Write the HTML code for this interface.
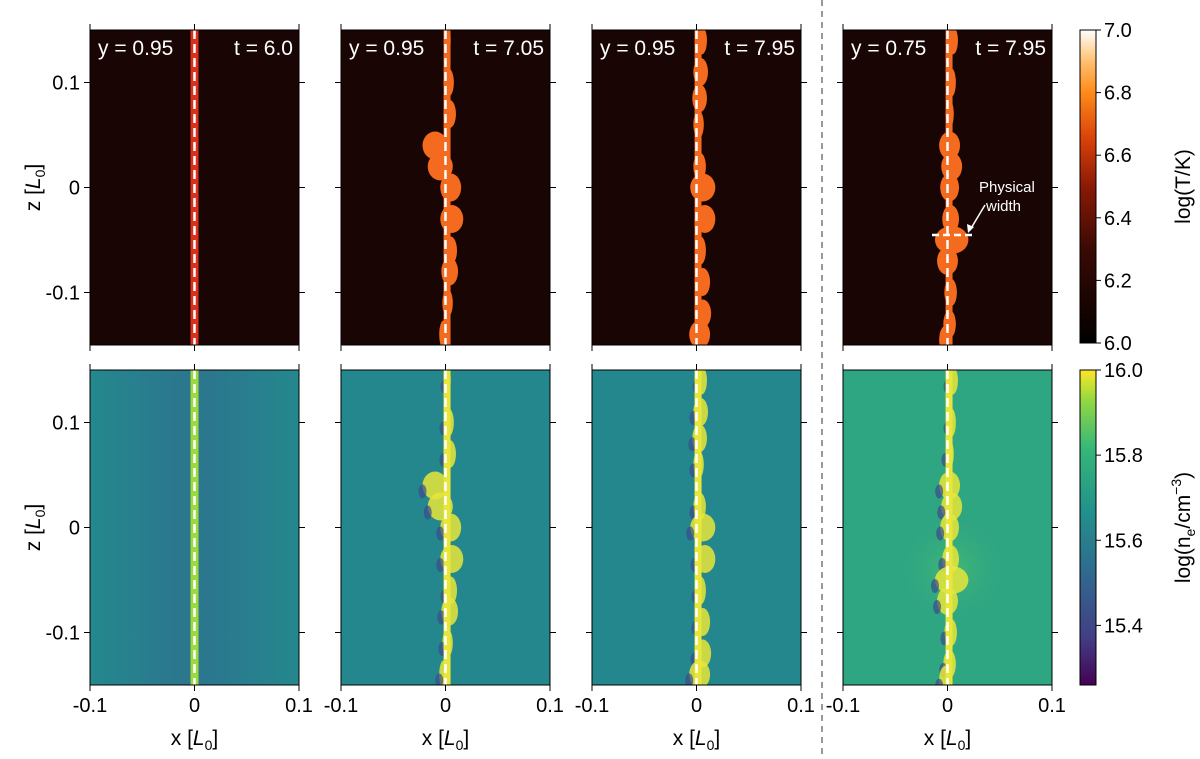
<!DOCTYPE html>
<html><head><meta charset="utf-8"><style>
body{margin:0;background:#fff;font-family:"Liberation Sans",sans-serif}
svg text{font-family:"Liberation Sans",sans-serif}
</style></head><body>
<svg id="fig" width="1200" height="754" viewBox="0 0 1200 754" xmlns="http://www.w3.org/2000/svg">
<defs>
<linearGradient id="gT" x1="0" y1="1" x2="0" y2="0">
<stop offset="0" stop-color="#000"/><stop offset="0.3" stop-color="#3a0a04"/><stop offset="0.5" stop-color="#8a1a06"/><stop offset="0.65" stop-color="#d9400a"/><stop offset="0.8" stop-color="#ff8a1a"/><stop offset="0.9" stop-color="#ffc070"/><stop offset="1" stop-color="#fff"/>
</linearGradient>
<linearGradient id="gN" x1="0" y1="1" x2="0" y2="0">
<stop offset="0" stop-color="#440154"/><stop offset="0.15" stop-color="#433e85"/><stop offset="0.35" stop-color="#31688e"/><stop offset="0.55" stop-color="#21918c"/><stop offset="0.75" stop-color="#35b779"/><stop offset="0.9" stop-color="#90d743"/><stop offset="1" stop-color="#fde725"/>
</linearGradient>
<linearGradient id="band1" x1="0" y1="0" x2="1" y2="0">
<stop offset="0" stop-color="#24888d"/><stop offset="0.35" stop-color="#2a7a8e"/><stop offset="0.5" stop-color="#2c758e"/><stop offset="0.65" stop-color="#2a7a8e"/><stop offset="1" stop-color="#24888d"/>
</linearGradient>
<radialGradient id="glow4" cx="0.5" cy="0.5" r="0.5">
<stop offset="0" stop-color="#4cc16d"/><stop offset="1" stop-color="#2fa682" stop-opacity="0"/>
</radialGradient>
</defs>
<g id="root"></g>
<line x1="822" y1="0" x2="822" y2="754" stroke="#999" stroke-width="2" stroke-dasharray="6,5"/>
</svg>
<script>
const NS="http://www.w3.org/2000/svg";
const root=document.getElementById('root');
function mk(tag,attrs,parent){const e=document.createElementNS(NS,tag);for(const k in attrs)e.setAttribute(k,attrs[k]);(parent||root).appendChild(e);return e;}
// data
const xTicks=[-0.1,0,0.1];
const zTicks=[0.1,0,-0.1];
const panelYLabels=["y = 0.95","y = 0.95","y = 0.95","y = 0.75"];
const panelTLabels=["t = 6.0","t = 7.05","t = 7.95","t = 7.95"];
const tempTicks=[6.0,6.2,6.4,6.6,6.8,7.0];
const densTicks=[15.4,15.6,15.8,16.0];
// blob data per panel: [z, x-offset, half-width] in L0
const blobs2=[[0.14,0.002,0.003],[0.1,0.003,0.005],[0.07,0.004,0.006],[0.04,-0.01,0.012],[0.02,-0.005,0.012],[0,0.005,0.01],[-0.03,0.006,0.011],[-0.06,0.005,0.006],[-0.08,0.004,0.008],[-0.11,0.002,0.005],[-0.14,-0.002,0.004]];
const blobs3=[[0.14,0.005,0.005],[0.11,0.004,0.007],[0.085,0.003,0.007],[0.06,0.002,0.005],[0.02,0.003,0.006],[0,0.006,0.012],[-0.03,0.008,0.01],[-0.06,0.004,0.005],[-0.09,0.006,0.007],[-0.12,0.006,0.008],[-0.14,0.003,0.01]];
const blobs4=[[0.14,0.005,0.005],[0.1,0.004,0.004],[0.07,0.002,0.004],[0.04,0.002,0.01],[0.02,0.004,0.01],[0,0.002,0.009],[-0.03,0.003,0.008],[-0.05,0.004,0.016],[-0.07,0,0.01],[-0.1,0.003,0.006],[-0.13,0.002,0.006],[-0.145,-0.002,0.006]];
const panelBlobs=[[],blobs2,blobs3,blobs4];
const panelX=[90,341,592,843], PW=209, rowY=[30,370], PH=315;
function xs(p,v){return panelX[p]+(v+0.1)*(PW/0.2);}
function zs(r,v){return rowY[r]+(0.15-v)/0.3*PH;}
for(let r=0;r<2;r++){
 for(let p=0;p<4;p++){
  const g=mk('g',{});
  
  
  const cp=mk('clipPath',{id:'c'+r+p},g);mk('rect',{x:panelX[p],y:rowY[r],width:PW,height:PH},cp);
  const gi=mk('g',{'clip-path':'url(#c'+r+p+')'},g);
  let bg = r==0?'#180504':(p==0?'url(#band1)':(p==3?'#2fa682':'#24878d'));
  mk('rect',{x:panelX[p],y:rowY[r],width:PW,height:PH,fill:bg},gi);
  if(r==1&&p==3) mk('ellipse',{cx:xs(p,0.005),cy:zs(r,-0.04),rx:55,ry:55,fill:'url(#glow4)',opacity:0.7},gi);
  if(p==0){
    mk('rect',{x:xs(p,0)-4,y:rowY[r],width:8,height:PH,fill:r==0?'#d8301a':'#9bd93c'},gi);
  } else {
    const bl=panelBlobs[p];
    bl.forEach(b=>{
      const e=mk('ellipse',{cx:xs(p,b[1]),cy:zs(r,b[0]),rx:b[2]*PW/0.2,ry:14,fill:r==0?'#f46a1e':'#e8e63a',opacity:r==0?1:0.85},gi);
      
      
      if(r==1){mk('ellipse',{cx:xs(p,b[1])-b[2]*PW/0.2,cy:zs(r,b[0])+6,rx:4,ry:7,fill:'#3b4b8c',opacity:0.7},gi);}
    });
    mk('rect',{x:xs(p,0.001)-3,y:rowY[r],width:7,height:PH,fill:r==0?'#f46a1e':'#e8e63a'},gi);
  }
  mk('line',{x1:xs(p,0),x2:xs(p,0),y1:rowY[r],y2:rowY[r]+PH,stroke:'#fff','stroke-width':2.5,'stroke-dasharray':'9,5'},gi);
  mk('rect',{x:panelX[p],y:rowY[r],width:PW,height:PH,fill:'none',stroke:'#000','stroke-width':1},g);
  xTicks.forEach(t=>{mk('line',{x1:xs(p,t),x2:xs(p,t),y1:rowY[r]+PH,y2:rowY[r]+PH+6,stroke:'#000'},g);mk('line',{x1:xs(p,t),x2:xs(p,t),y1:rowY[r],y2:rowY[r]-6,stroke:'#000'},g);});
  zTicks.forEach(t=>{mk('line',{x1:panelX[p]-6,x2:panelX[p],y1:zs(r,t),y2:zs(r,t),stroke:'#000'},g);mk('line',{x1:panelX[p]+PW,x2:panelX[p]+PW+6,y1:zs(r,t),y2:zs(r,t),stroke:'#000'},g);});
  if(r==0){
    const a=mk('text',{x:panelX[p]+8,y:55,fill:'#fff','font-size':21},g);a.textContent=panelYLabels[p];
    
    const b=mk('text',{x:panelX[p]+PW-6,y:55,fill:'#fff','font-size':21,'text-anchor':'end'},g);b.textContent=panelTLabels[p];
    
  }
  if(r==1){
    xTicks.forEach(t=>{const e=mk('text',{x:xs(p,t),y:712,'font-size':20,'text-anchor':'middle'},g);e.textContent=t==0?'0':String(t);
      });
    const xl=mk('text',{x:xs(p,0),y:745,'font-size':21,'text-anchor':'middle'},g);
    xl.innerHTML='x [<tspan font-style="italic">L</tspan><tspan font-size="14" dy="5">0</tspan><tspan dy="-5">]</tspan>';
    
  }
  if(p==0){
    zTicks.forEach(t=>{const e=mk('text',{x:panelX[0]-10,y:zs(r,t)+7,'font-size':20,'text-anchor':'end'},g);e.textContent=t==0?'0':String(t);
      });
    const zl=mk('text',{transform:'translate(40,'+(rowY[r]+PH/2)+') rotate(-90)','font-size':21,'text-anchor':'middle'},g);
    zl.innerHTML='z [<tspan font-style="italic">L</tspan><tspan font-size="14" dy="5">0</tspan><tspan dy="-5">]</tspan>';
    
  }
 }
}
const ann=mk('g',{});


mk('line',{x1:932,x2:973,y1:235,y2:235,stroke:'#fff','stroke-width':2.5,'stroke-dasharray':'7,4'},ann);
mk('line',{x1:985,x2:970,y1:205,y2:230,stroke:'#fff','stroke-width':1.5},ann);
mk('path',{d:'M968,233 L967,224 L974,227 Z',fill:'#fff'},ann);
let t1=mk('text',{x:979,y:192,fill:'#fff','font-size':15},ann);t1.textContent='Physical';
let t2=mk('text',{x:986,y:211,fill:'#fff','font-size':15},ann);t2.textContent='width';
function cbar(y0,h,grad,lo,hi,ticks,name,labelHTML){
 const g=mk('g',{});
 
 
 mk('rect',{x:1080,y:y0,width:16,height:h,fill:grad,stroke:'#000','stroke-width':1},g);
 ticks.forEach(t=>{const y=y0+h-(t-lo)/(hi-lo)*h;mk('line',{x1:1096,x2:1101,y1:y,y2:y,stroke:'#000'},g);
  const e=mk('text',{x:1104,y:y+7,'font-size':20},g);e.textContent=t.toFixed(1);
  });
 const l=mk('text',{transform:'translate(1190,'+(y0+h/2)+') rotate(-90)','font-size':21,'text-anchor':'middle'},g);
 l.innerHTML=labelHTML;
}
cbar(30,313,'url(#gT)',6.0,7.0,tempTicks,'temperature-colorbar','log(T/K)');
cbar(370,315,'url(#gN)',15.26,16.0,densTicks,'density-colorbar','log(n<tspan font-size="14" dy="5">e</tspan><tspan dy="-5">/cm</tspan><tspan font-size="14" dy="-9">−3</tspan><tspan dy="9">)</tspan>');
</script>
</body></html>
